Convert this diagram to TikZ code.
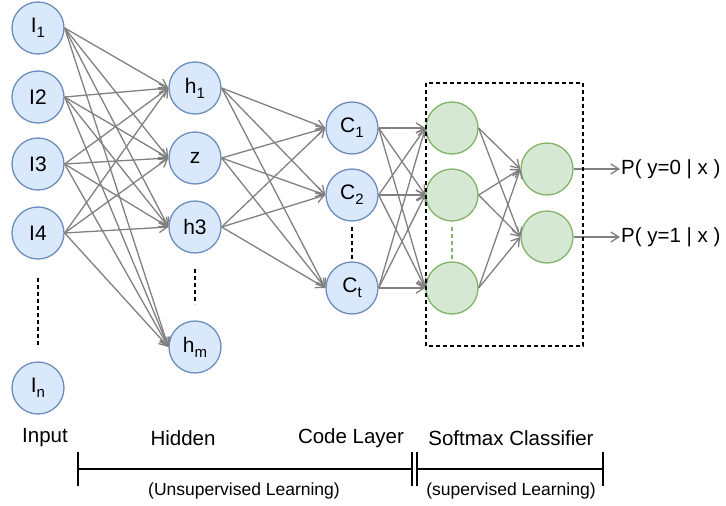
\documentclass[tikz,border=0pt]{standalone}
\usepackage{fontspec}
\setmainfont{Liberation Sans}
\usetikzlibrary{arrows.meta}
\definecolor{blueFill}{HTML}{DAE8FC}
\definecolor{blueLine}{HTML}{6C8EBF}
\definecolor{greenFill}{HTML}{D5E8D4}
\definecolor{greenLine}{HTML}{82B366}
\definecolor{edgeGray}{HTML}{808080}
\newcommand{\lowsub}[1]{\raisebox{-0.45ex}{\fontsize{15}{15}\selectfont #1}}

\begin{document}
\begin{tikzpicture}[x=1pt,y=-1pt,
    unit/.style={circle,draw=blueLine,fill=blueFill,line width=1.3pt,minimum size=52pt,inner sep=0pt,font=\fontsize{21}{22}\selectfont},
    soft/.style={unit,draw=greenLine,fill=greenFill},
    edge/.style={draw=edgeGray,line width=1.3pt,-{Straight Barb[length=8pt,width=10pt]}},
    dots/.style={dash pattern=on 4pt off 3pt,line width=1.3pt},
    lbl/.style={font=\fontsize{20.5}{22}\selectfont,inner sep=1pt},
    sublbl/.style={font=\fontsize{17.5}{19}\selectfont,inner sep=1pt}]
    \useasboundingbox (0,0) rectangle (726,506);

    % Input layer
    \node[unit] (i1) at (38,28) {I\lowsub{1}};
    \node[unit] (i2) at (38,97) {I2};
    \node[unit] (i3) at (38,164) {I3};
    \node[unit] (i4) at (38,233) {I4};
    \node[unit] (in) at (38,388) {I\lowsub{n}};
    \draw[dots] (38,278) -- (38,345);

    % Hidden layer
    \node[unit] (h1) at (195,88) {h\lowsub{1}};
    \node[unit] (z) at (195,158) {z};
    \node[unit] (h3) at (195,227) {h3};
    \node[unit] (hm) at (195,347) {h\lowsub{m}};
    \draw[dots] (195,269) -- (195,304);

    % Code layer
    \node[unit] (c1) at (352,128) {C\lowsub{1}};
    \node[unit] (c2) at (352,195) {C\lowsub{2}};
    \node[unit] (ct) at (352,288) {C\lowsub{t}};
    \draw[dots] (352,227) -- (352,262);

    % Softmax classifier
    \node[soft] (s1) at (452,128) {};
    \node[soft] (s2) at (452,195) {};
    \node[soft] (s3) at (452,288) {};
    \draw[dots,greenLine] (452,227) -- (452,262);
    \node[soft] (o1) at (547,169) {};
    \node[soft] (o2) at (547,237) {};

    % Connections
    \foreach \a in {i1,i2,i3,i4}
        \foreach \b in {h1,z,h3,hm}
            \draw[edge] (\a.east) -- (\b.west);
    \foreach \a in {h1,z,h3}
        \foreach \b in {c1,c2,ct}
            \draw[edge] (\a.east) -- (\b.west);
    \foreach \a in {c1,c2,ct}
        \foreach \b in {s1,s2,s3}
            \draw[edge] (\a.east) -- (\b.west);
    \foreach \a in {s1,s2,s3}
        \foreach \b in {o1,o2}
            \draw[edge] (\a.east) -- (\b.west);

    % Outputs
    \node[lbl,anchor=west] (p0) at (620,169) {P( y=0 | x )};
    \node[lbl,anchor=west] (p1) at (620,237) {P( y=1 | x )};
    \draw[edge] (o1.east) -- (p0.west);
    \draw[edge] (o2.east) -- (p1.west);

    % Classifier frame
    \draw[dots] (426,83) rectangle (583,346);

    % Layer names
    \node[lbl] (inp) at (45,438) {Input};
    \node[lbl] (hid) at (183,438) {Hidden};
    \node[lbl] (code) at (351,438) {Code Layer};
    \node[lbl] (smx) at (511,438) {Softmax Classifier};

    % Brackets
    \draw[line width=1.3pt] (78,452) -- (78,486);
    \draw[line width=1.3pt] (78,469) -- (412,469);
    \draw[line width=1.3pt] (412,452) -- (412,486);
    \draw[line width=1.3pt] (417,452) -- (417,486);
    \draw[line width=1.3pt] (417,469) -- (603,469);
    \draw[line width=1.3pt] (603,452) -- (603,486);
    \node[sublbl] (uns) at (244,491) {(Unsupervised Learning)};
    \node[sublbl] (sup) at (511,491) {(supervised Learning)};
\end{tikzpicture}
\end{document}
